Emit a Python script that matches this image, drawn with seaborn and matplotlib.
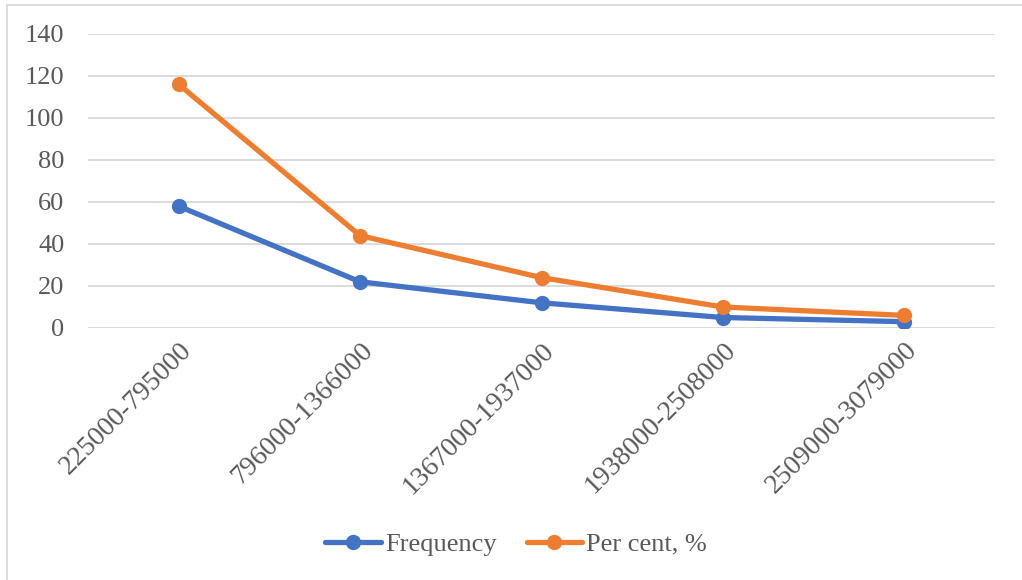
import matplotlib
matplotlib.use("Agg")
import matplotlib.pyplot as plt
import seaborn as sns
import pandas as pd
from matplotlib.patches import Rectangle

categories = ["225000-795000", "796000-1366000", "1367000-1937000",
              "1938000-2508000", "2509000-3079000"]
frequency = [58, 22, 12, 5, 3]
per_cent = [116, 44, 24, 10, 6]
series_names = ["Frequency", "Per cent, %"]
colors = ["#4472C4", "#ED7D31"]
y_ticks = [0, 20, 40, 60, 80, 100, 120, 140]

df = pd.DataFrame({
    "range": categories * 2,
    "value": frequency + per_cent,
    "series": [series_names[0]] * len(categories) + [series_names[1]] * len(categories),
})

sns.set_theme(style="white")
plt.rcParams["font.family"] = ["Liberation Serif", "DejaVu Serif"]

fig = plt.figure(figsize=(10.22, 5.80), dpi=100)
ax = fig.add_axes([88 / 1022, 1 - 328 / 580, 907 / 1022, 294 / 580])

sns.lineplot(data=df, x="range", y="value", hue="series", palette=colors,
             marker="o", markersize=11, markeredgewidth=0, linewidth=3.8,
             sort=False, ax=ax)

ax.set_xlim(-0.5, len(categories) - 0.5)
ax.set_ylim(0, 140)
ax.set_yticks(y_ticks)
ax.yaxis.grid(True, color="#D9D9D9", linewidth=1.3)
ax.set_axisbelow(True)
for s in ax.spines.values():
    s.set_visible(False)
ax.set_xlabel("")
ax.set_ylabel("")
ax.tick_params(axis="both", length=0, colors="#595959")
ax.tick_params(axis="y", pad=17, labelsize=19)
ax.tick_params(axis="x", pad=7, labelsize=20)
ax.set_xticks(range(len(categories)))
ax.set_xticklabels(categories, rotation=45, ha="right", rotation_mode="anchor")

handles, labels = ax.get_legend_handles_labels()
ax.legend(handles, labels, loc="center", bbox_to_anchor=(0.505, 1 - 544 / 580),
          bbox_transform=fig.transFigure, ncol=2, frameon=False, fontsize=19,
          handlelength=2.1, columnspacing=1.15, handletextpad=0.15,
          labelcolor="#595959")

fig.patches.append(Rectangle((7 / 1022, -0.1), 1.2, 1 - 5 / 580 + 0.1,
                             transform=fig.transFigure, fill=False,
                             edgecolor="#D9D9D9", linewidth=1.3))

fig.savefig("out.png", dpi=100, facecolor="white")
